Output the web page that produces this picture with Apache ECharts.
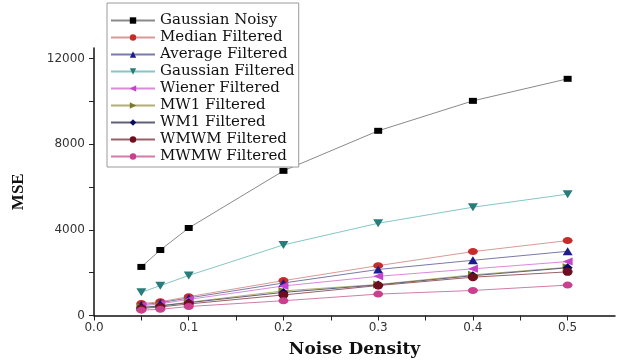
<!DOCTYPE html>
<html>
<head>
<meta charset="utf-8">
<script src="https://cdn.jsdelivr.net/npm/echarts@6/dist/echarts.min.js"></script>
<style>
  html, body { margin: 0; padding: 0; background: #fff; }
  #chart { width: 618px; height: 361px; }
</style>
</head>
<body>
<div id="chart"></div>
<script>
// noise density levels
const noiseDensity = [0.05, 0.07, 0.1, 0.2, 0.3, 0.4, 0.5];

// MSE per filter
const gaussianNoisy = [2270, 3060, 4090, 6760, 8630, 10030, 11060];
const medianFiltered = [560, 640, 880, 1630, 2330, 2985, 3500];
const averageFiltered = [500, 600, 820, 1520, 2150, 2580, 3000];
const gaussianFiltered = [1085, 1395, 1870, 3300, 4310, 5060, 5670];
const wienerFiltered = [450, 550, 750, 1380, 1830, 2180, 2520];
const mw1Filtered = [380, 460, 620, 1150, 1450, 1900, 2250];
const wm1Filtered = [370, 450, 600, 1080, 1430, 1860, 2230];
const wmwmFiltered = [330, 400, 540, 960, 1400, 1790, 2040];
const mwmwFiltered = [250, 290, 420, 690, 1000, 1170, 1420];

const yTickLabels = [0, 4000, 8000, 12000];
const yTicks = [0, 2000, 4000, 6000, 8000, 10000, 12000];
const xTickLabels = [0, 0.1, 0.2, 0.3, 0.4, 0.5];
const xTicks = [0, 0.05, 0.1, 0.15, 0.2, 0.25, 0.3, 0.35, 0.4, 0.45, 0.5];

const pairs = (ys) => noiseDensity.map((x, i) => [x, ys[i]]);

function makeSeries(name, ys, symbol, size, rotate, color, lineColor) {
  return {
    name: name,
    type: "line",
    data: pairs(ys),
    symbol: symbol,
    symbolSize: size,
    symbolRotate: rotate,
    itemStyle: { color: color },
    lineStyle: { color: lineColor, width: 1 },
    emphasis: { disabled: true },
    z: 3,
  };
}

const myChart = echarts.init(document.getElementById("chart"));

myChart.setOption({
  animation: false,
  backgroundColor: "#fff",
  grid: {
    left: 94,
    right: 3,
    top: 48,
    bottom: 45.5,
    outerBoundsMode: "none",
  },
  legend: {
    orient: "vertical",
    left: 107,
    top: 3,
    padding: [10, 4, 3, 3],
    itemWidth: 44,
    itemHeight: 8,
    itemGap: 2,
    borderColor: "#9a9a9a",
    borderWidth: 1,
    backgroundColor: "#fff",
    textStyle: {
      fontFamily: "DejaVu Serif",
      fontSize: 15,
      lineHeight: 15,
      color: "#111",
    },
  },
  xAxis: {
    type: "value",
    min: 0,
    max: 0.55,
    name: "Noise Density",
    nameLocation: "middle",
    nameGap: 26,
    nameTextStyle: {
      fontFamily: "DejaVu Serif",
      fontWeight: "bold",
      fontSize: 17,
      color: "#111",
    },
    axisLine: { lineStyle: { color: "#111", width: 1.5 } },
    axisTick: {
      length: 5,
      lineStyle: { color: "#222" },
      customValues: xTicks,
    },
    axisLabel: {
      customValues: xTickLabels,
      formatter: (v) => v.toFixed(1),
      fontFamily: "DejaVu Sans",
      fontSize: 12,
      color: "#333",
      margin: 6,
    },
    splitLine: { show: false },
  },
  yAxis: {
    type: "value",
    min: 0,
    max: 12500,
    name: "MSE",
    nameLocation: "middle",
    nameGap: 67,
    nameRotate: 90,
    nameTextStyle: {
      fontFamily: "Liberation Serif",
      fontWeight: "bold",
      fontSize: 17,
      color: "#111",
      padding: [0, 20, 0, 0],
    },
    axisLine: { show: true, lineStyle: { color: "#111", width: 1.5 } },
    axisTick: {
      show: true,
      length: 5,
      lineStyle: { color: "#222" },
      customValues: yTicks,
    },
    axisLabel: {
      customValues: yTickLabels,
      formatter: (v) => String(v),
      fontFamily: "DejaVu Sans",
      fontSize: 12,
      color: "#333",
      margin: 9,
    },
    splitLine: { show: false },
  },
  series: [
    makeSeries("Gaussian Noisy", gaussianNoisy, "rect", [8, 6], 0, "#000", "#8a8a8a"),
    makeSeries("Median Filtered", medianFiltered, "circle", [10, 7], 0, "#c62d2a", "#d99a96"),
    makeSeries("Average Filtered", averageFiltered, "triangle", [10, 8], 0, "#1c1c8a", "#7a7aa8"),
    makeSeries("Gaussian Filtered", gaussianFiltered, "triangle", [10, 8], 180, "#2a7b7b", "#86c6c6"),
    makeSeries("Wiener Filtered", wienerFiltered, "triangle", [8, 10], 90, "#c444cc", "#d98ad9"),
    makeSeries("MW1 Filtered", mw1Filtered, "triangle", [8, 10], -90, "#7b7b2a", "#b0b070"),
    makeSeries("WM1 Filtered", wm1Filtered, "diamond", [10, 9], 0, "#0a0a60", "#60607a"),
    makeSeries("WMWM Filtered", wmwmFiltered, "circle", [10, 8], 0, "#6e0e1e", "#9a6068"),
    makeSeries("MWMW Filtered", mwmwFiltered, "circle", [10, 7], 0, "#c8408e", "#d27ca8"),
  ],
});
</script>
</body>
</html>
